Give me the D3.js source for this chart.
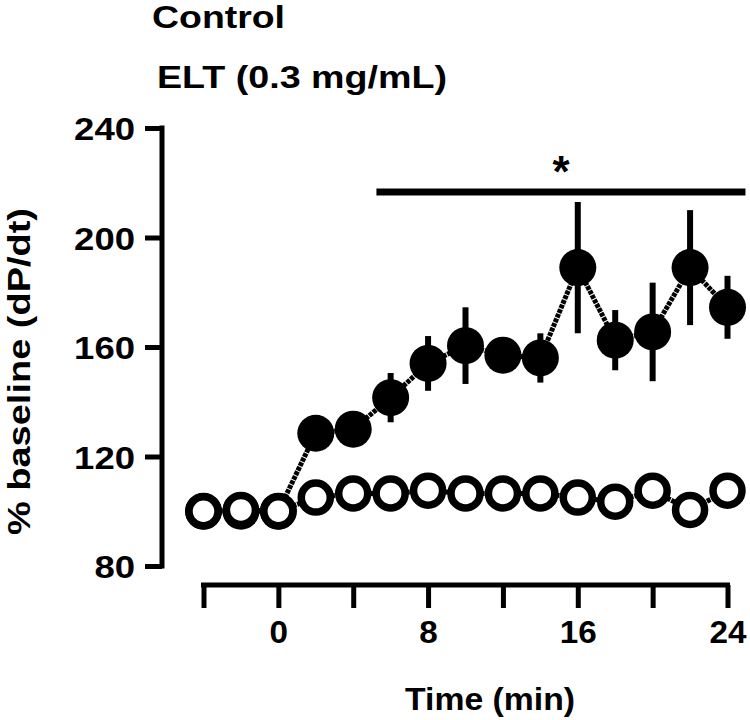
<!DOCTYPE html>
<html>
<head>
<meta charset="utf-8">
<script src="https://cdn.jsdelivr.net/npm/d3@7"></script>
<style>
  html, body { margin: 0; padding: 0; background: #fff; }
  svg { display: block; }
  text { font-family: "Liberation Sans", Arial, sans-serif; font-weight: bold; fill: #000; }
</style>
</head>
<body>
<svg id="chart" width="750" height="720"></svg>
<script>
// ---- data ----
const times = [-4, -2, 0, 2, 4, 6, 8, 10, 12, 14, 16, 18, 20, 22, 24];
const controlValues = [100, 100.5, 100, 105, 106.5, 106.5, 107.5, 106.5, 106.5, 106.5, 105, 103.5, 107.5, 100.5, 107.5];
const eltValues = [100, 100, 100, 128.5, 130, 141.5, 154, 160.5, 157, 156, 189, 162.5, 165.5, 189, 174.5];
const eltErrors = [0, 0, 0, 5, 5, 9, 10, 14, 4, 9, 24, 11, 18, 21, 11.5];
const yTicks = [80, 120, 160, 200, 240];
const xTicks = [-4, 0, 4, 8, 12, 16, 20, 24];
const xTickLabels = ["", "0", "", "8", "", "16", "", "24"];
const seriesNames = ["Control", "ELT (0.3 mg/mL)"];
const sigRange = [5.24, 24.96];
const sigLevel = 216.6;
const sigLabel = "*";

// ---- scales ----
const svg = d3.select("#chart");
const x = d3.scaleLinear().domain([-4, 24]).range([203.5, 727.5]);
const y = d3.scaleLinear().domain([80, 240]).range([566, 128]);

// ---- legend text ----
svg.append("text").attr("x", 152).attr("y", 28).attr("font-size", 32)
  .attr("textLength", 133).attr("lengthAdjust", "spacingAndGlyphs").text(seriesNames[0]);
svg.append("text").attr("x", 157).attr("y", 88).attr("font-size", 32)
  .attr("textLength", 290).attr("lengthAdjust", "spacingAndGlyphs").text(seriesNames[1]);

// ---- y axis ----
const yAxis = svg.append("g").attr("transform", "translate(162,0)")
  .call(d3.axisLeft(y).tickValues(yTicks).tickSize(17).tickPadding(10).tickSizeOuter(0));
yAxis.select(".domain").attr("stroke", "#000").attr("stroke-width", 5)
  .attr("d", `M0,${y(240) - 2.5}V${y(80) + 2.5}`);
yAxis.selectAll(".tick line").attr("stroke", "#000").attr("stroke-width", 5);
yAxis.selectAll(".tick text")
  .attr("font-size", 32).attr("font-family", "Liberation Sans, Arial, sans-serif").attr("font-weight", "bold")
  .attr("dy", "0.36em")
  .attr("textLength", d => String(d).length * 20.3).attr("lengthAdjust", "spacingAndGlyphs");

// ---- x axis ----
const xAxis = svg.append("g").attr("transform", "translate(0,585)")
  .call(d3.axisBottom(x).tickValues(xTicks).tickSize(23).tickPadding(12).tickSizeOuter(0)
    .tickFormat((d, i) => xTickLabels[i]));
xAxis.select(".domain").attr("stroke", "#000").attr("stroke-width", 5)
  .attr("d", `M${x(-4) - 2.5},0H${x(24) + 2.5}`);
xAxis.selectAll(".tick line").attr("stroke", "#000").attr("stroke-width", 5);
xAxis.selectAll(".tick text")
  .attr("font-size", 32).attr("font-family", "Liberation Sans, Arial, sans-serif").attr("font-weight", "bold")
  .attr("dy", "0.72em")
  .attr("textLength", (d, i) => xTickLabels[i].length * 18.5).attr("lengthAdjust", "spacingAndGlyphs");

// ---- axis titles ----
svg.append("text").attr("x", 490).attr("y", 710).attr("text-anchor", "middle").attr("font-size", 32)
  .attr("textLength", 170).attr("lengthAdjust", "spacingAndGlyphs").text("Time (min)");
svg.append("text").attr("transform", "translate(30,371.5) rotate(-90)").attr("text-anchor", "middle")
  .attr("font-size", 31).attr("textLength", 327).attr("lengthAdjust", "spacingAndGlyphs")
  .text("% baseline (dP/dt)");

// ---- significance bar ----
svg.append("line").attr("x1", x(sigRange[0])).attr("x2", x(sigRange[1]))
  .attr("y1", y(sigLevel)).attr("y2", y(sigLevel)).attr("stroke", "#000").attr("stroke-width", 7);
svg.append("text").attr("x", x((sigRange[0] + sigRange[1]) / 2)).attr("y", y(sigLevel) - 5)
  .attr("text-anchor", "middle").attr("font-size", 44).text(sigLabel);

// ---- series ----
const line = d3.line().x((d, i) => x(times[i])).y(d => y(d));

// ELT (filled)
const elt = svg.append("g");
elt.append("path").datum(eltValues).attr("d", line).attr("fill", "none")
  .attr("stroke", "#000").attr("stroke-width", 5).attr("stroke-dasharray", "4 1");
elt.selectAll("line.err").data(eltValues).join("line").attr("class", "err")
  .attr("x1", (d, i) => x(times[i])).attr("x2", (d, i) => x(times[i]))
  .attr("y1", (d, i) => y(d + eltErrors[i])).attr("y2", (d, i) => y(d - eltErrors[i]))
  .attr("stroke", "#000").attr("stroke-width", 6);
elt.selectAll("circle").data(eltValues).join("circle")
  .attr("cx", (d, i) => x(times[i])).attr("cy", d => y(d)).attr("r", 18.5).attr("fill", "#000");

// Control (open)
const ctl = svg.append("g");
ctl.append("path").datum(controlValues).attr("d", line).attr("fill", "none")
  .attr("stroke", "#000").attr("stroke-width", 5).attr("stroke-dasharray", "4 1");
ctl.selectAll("circle").data(controlValues).join("circle")
  .attr("cx", (d, i) => x(times[i])).attr("cy", d => y(d)).attr("r", 14.5)
  .attr("fill", "#fff").attr("stroke", "#000").attr("stroke-width", 7.5);
</script>
</body>
</html>
